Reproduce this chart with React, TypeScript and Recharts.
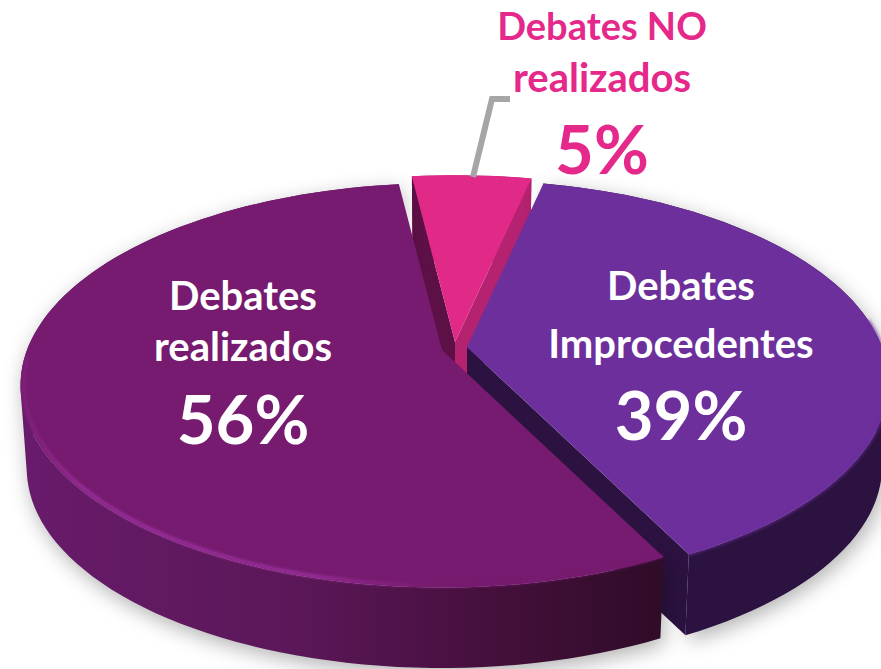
import React from 'react';
import { PieChart, Pie } from 'recharts';

const categories = ['Debates NO realizados', 'Debates Improcedentes', 'Debates realizados'];
const values = [5.4, 39.1, 55.5];
const labelLines = [['Debates NO', 'realizados'], ['Debates', 'Improcedentes'], ['Debates', 'realizados']];

const data = categories.map((name, i) => ({ name, value: values[i] }));

const TOP_COLORS = ['#e12a88', '#6c2f9c', '#761b6f'];
const TEXT_COLORS = ['#e5298a', '#ffffff', '#ffffff'];

// exploded offset of each slice from the pie centre
const EXPLODE = [[0, -8], [12, -3], [-13, 0]];
// text block: centre x and baselines, relative to the pie centre
const LABEL_BOX = [
  { x: 147, lines: [-310, -258], pct: -176 },
  { x: 226, lines: [-50, 8], pct: 90 },
  { x: -212, lines: [-40, 11], pct: 94 },
];

const CX = 455;
const CY = 350;
const RADIUS = 415;
const TILT = 196 / 415;
const PERSPECTIVE = 0.175;
const DEPTH = 84;
const BOTTOM_SCALE = 0.985;

function project(cx: number, cy: number, r: number, deg: number, bottom: boolean) {
  const a = (deg * Math.PI) / 180;
  const w = 1 + PERSPECTIVE * Math.sin(a);
  const k = bottom ? BOTTOM_SCALE : 1;
  return [
    cx + (r * k * Math.cos(a)) / w,
    cy + (bottom ? DEPTH : 0) - (r * TILT * k * Math.sin(a)) / w,
  ];
}

function arc(cx: number, cy: number, r: number, from: number, to: number, bottom = false) {
  const pts: number[][] = [];
  const steps = Math.max(2, Math.ceil(Math.abs(to - from) / 2));
  for (let i = 0; i <= steps; i++) {
    pts.push(project(cx, cy, r, from + ((to - from) * i) / steps, bottom));
  }
  return pts;
}

const toLine = (pts: number[][]) => 'M' + pts.map((p) => `${p[0].toFixed(1)},${p[1].toFixed(1)}`).join('L');
const toPath = (pts: number[][]) => toLine(pts) + 'Z';

// side wall as one path of equally wound quads, so the silhouette stays filled
function wallPath(top: number[][], bottom: number[][]) {
  let d = '';
  for (let i = 0; i < top.length - 1; i++) {
    const q = [top[i], top[i + 1], bottom[i + 1], bottom[i]];
    let area = 0;
    q.forEach((p, k) => {
      const n = q[(k + 1) % 4];
      area += p[0] * n[1] - n[0] * p[1];
    });
    d += toPath(area < 0 ? q.slice().reverse() : q);
  }
  return d;
}

const Slice3D = (props: any) => {
  const { cx, cy, outerRadius, startAngle, endAngle, index } = props;
  const i = index ?? categories.indexOf(props.name);
  const x = cx + EXPLODE[i][0];
  const y = cy + EXPLODE[i][1];
  const a1 = Math.min(startAngle, endAngle);
  const a2 = Math.max(startAngle, endAngle);
  const top = arc(x, y, outerRadius, a1, a2);
  const bottom = arc(x, y, outerRadius, a1, a2, true);
  const wall = wallPath(top, bottom);
  const apexBottom = [x, y + DEPTH];
  const cutStart = [[x, y], top[0], bottom[0], apexBottom];
  const cutEnd = [[x, y], top[top.length - 1], bottom[bottom.length - 1], apexBottom];

  let wallFill = '#2c1240';
  if (i === 0) wallFill = '#b5226f';
  if (i === 2) wallFill = 'url(#maroonWall)';

  return (
    <g>
      <defs>
        <linearGradient id="maroonWall" gradientUnits="userSpaceOnUse" x1="20" y1="0" x2="660" y2="0">
          <stop offset="0" stopColor="#681b6b" />
          <stop offset="0.45" stopColor="#5a1757" />
          <stop offset="0.7" stopColor="#48103f" />
          <stop offset="1" stopColor="#2f0c28" />
        </linearGradient>
        <linearGradient id="maroonRim" gradientUnits="userSpaceOnUse" x1="20" y1="0" x2="430" y2="0">
          <stop offset="0" stopColor="#9a2f9c" stopOpacity="0.2" />
          <stop offset="0.15" stopColor="#9a2f9c" />
          <stop offset="0.7" stopColor="#9a2f9c" />
          <stop offset="1" stopColor="#761b6f" />
        </linearGradient>
      </defs>
      {i !== 0 && (
        <path
          d={wall}
          transform="translate(3 6)"
          fill="#000"
          fillOpacity={0.3}
          style={{ filter: 'blur(10px)' }}
        />
      )}
      <path d={wall} fill={wallFill} />
      {i === 0 && <path d={toPath(cutStart)} fill="#b5226f" />}
      {i === 0 && <path d={toPath(cutEnd)} fill="#5d1045" />}
      {i === 1 && <path d={toPath(cutStart)} fill="#2c1240" />}
      <path d={toPath([[x, y], ...top])} fill={TOP_COLORS[i]} />
      {i === 2 && (
        <path
          d={toLine(arc(x, y, outerRadius * 0.992, -178, a2))}
          fill="none"
          stroke="url(#maroonRim)"
          strokeWidth={3.5}
          style={{ filter: 'blur(1.5px)' }}
        />
      )}
      {i === 1 && (
        <path
          d={toLine(arc(x, y, outerRadius, a1, 8))}
          fill="none"
          stroke={TOP_COLORS[1]}
          strokeOpacity={0.7}
          strokeWidth={3}
          style={{ filter: 'blur(1.5px)' }}
        />
      )}
    </g>
  );
};

const SliceLabel = (props: any) => {
  const { cx, cy, index, value } = props;
  const box = LABEL_BOX[index];
  return (
    <g fontFamily="Lato, sans-serif" fontWeight={700} textAnchor="middle" fill={TEXT_COLORS[index]}>
      {index === 0 && (
        <polyline
          points={`${cx + 18},${cy - 173} ${cx + 37},${cy - 251} ${cx + 55},${cy - 251}`}
          fill="none"
          stroke="#a6a6a6"
          strokeWidth={6}
        />
      )}
      {labelLines[index].map((line, k) => (
        <text key={line} x={cx + box.x} y={cy + box.lines[k]} fontSize={line === 'Debates NO' ? 38 : 40}>
          {line}
        </text>
      ))}
      <text x={cx + box.x} y={cy + box.pct} fontSize={67}>
        {Math.round(value)}%
      </text>
    </g>
  );
};

export default function App() {
  return (
    <div style={{ position: 'absolute', left: 0, top: 0, width: 881, height: 669, overflow: 'hidden', background: '#fff' }}>
      <PieChart width={881} height={669} margin={{ top: 0, right: 0, bottom: 0, left: 0 }}>
        <Pie
          data={data}
          dataKey="value"
          nameKey="name"
          cx={CX}
          cy={CY}
          innerRadius={0}
          outerRadius={RADIUS}
          startAngle={97}
          endAngle={-263}
          stroke="none"
          shape={Slice3D}
          label={SliceLabel}
          labelLine={false}
          isAnimationActive={false}
        />
      </PieChart>
    </div>
  );
}
